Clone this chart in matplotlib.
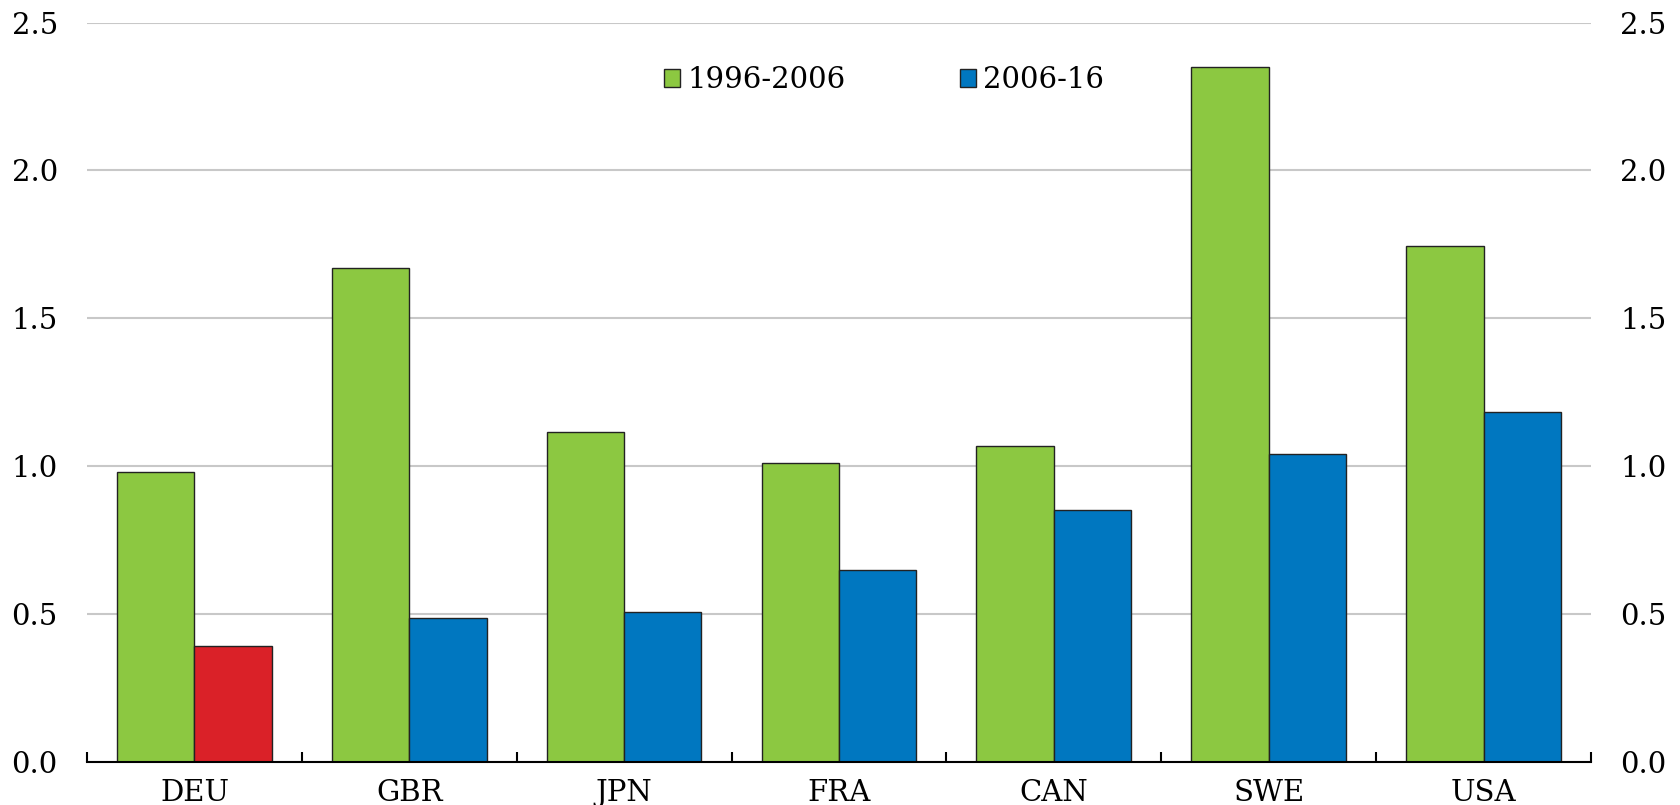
import matplotlib
matplotlib.use("Agg")
import matplotlib.pyplot as plt
import numpy as np

plt.rcParams["font.family"] = ["DejaVu Serif"]

countries = ["DEU", "GBR", "JPN", "FRA", "CAN", "SWE", "USA"]
growth_1996_2006 = [0.979, 1.670, 1.116, 1.011, 1.069, 2.348, 1.743]
growth_2006_16 = [0.391, 0.486, 0.507, 0.649, 0.851, 1.043, 1.185]
yticks = [0.0, 0.5, 1.0, 1.5, 2.0, 2.5]

green = "#8cc841"
blue = "#0077c0"
red = "#da2128"

fig = plt.figure(figsize=(16.8, 8.05), dpi=100)
ax = fig.add_axes([0.0518, 0.0534, 0.8952, 0.9186])

x = np.arange(len(countries))
w = 0.36
ax.bar(x - w / 2, growth_1996_2006, width=w, color=green, edgecolor="#222222",
       linewidth=1, label="1996-2006", zorder=3)
cols = [red] + [blue] * (len(countries) - 1)
bars2 = ax.bar(x + w / 2, growth_2006_16, width=w, color=cols, edgecolor="#222222",
               linewidth=1, zorder=3)
# legend proxy for the blue series
ax.bar([0], [0], width=0, color=blue, edgecolor="#222222", linewidth=1, label="2006-16")

ax.set_xlim(-0.5, len(countries) - 0.5)
ax.set_ylim(0, 2.5)
ax.set_yticks(yticks)
ax.set_yticklabels([f"{v:.1f}" for v in yticks])
ax.yaxis.grid(True, color="#c8c8c8", linewidth=1.5, zorder=0)
ax.set_axisbelow(True)

for s in ["left", "right", "top"]:
    ax.spines[s].set_visible(False)
ax.spines["bottom"].set_linewidth(1.5)
ax.spines["bottom"].set_zorder(4)

ax.tick_params(axis="y", length=0, pad=21, labelsize=21, labelright=True)
ax.set_xticks(x)
ax.set_xticklabels(countries)
ax.tick_params(axis="x", length=0, pad=12, labelsize=21)
ax.set_xticks(np.arange(-0.5, len(countries)), minor=True)
ax.tick_params(axis="x", which="minor", direction="in", length=7, width=1.5)

ax.legend(loc="center", bbox_to_anchor=(0.53, 0.922), ncol=2, frameon=False,
          fontsize=21, handlelength=0.55, handleheight=0.55, handletextpad=0.25,
          columnspacing=3.9)

fig.savefig("out.png", dpi=100)
